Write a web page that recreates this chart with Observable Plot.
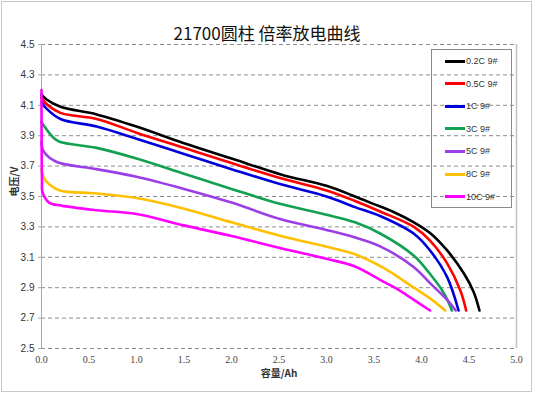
<!DOCTYPE html>
<html>
<head>
<meta charset="utf-8">
<script src="https://cdn.jsdelivr.net/npm/d3@7"></script>
<script src="https://cdn.jsdelivr.net/npm/@observablehq/plot@0.6"></script>
<style>
  html, body { margin: 0; padding: 0; background: #fff; }
  #wrap { position: relative; width: 536px; height: 397px; }
  #wrap svg { position: absolute; left: 0; top: 0; }
  #frame { position: absolute; left: 1px; top: 1px; width: 529px; height: 389px; border: 1px solid #c8c8c8; pointer-events: none; }
  #legend { position: absolute; left: 431px; top: 49px; width: 79px; height: 157px; border: 1px solid #8a8a8a; font-family: "Liberation Sans", sans-serif; font-size: 9px; color: #333; }
  .lg-row { position: absolute; left: 0; height: 12px; display: flex; align-items: center; }
  .lg-sw { width: 20px; height: 3px; margin-left: 13px; margin-right: 1px; }
</style>
</head>
<body>
<div id="wrap"><div id="frame"></div></div>
<script>
const title = "21700圆柱 倍率放电曲线";
const xLabel = "容量/Ah";
const yLabel = "电压/V";
const seriesNames = ["0.2C 9#", "0.5C 9#", "1C 9#", "3C 9#", "5C 9#", "8C 9#", "10C 9#"];
const seriesColors = ["#000000", "#ff0000", "#0000dd", "#12a150", "#9b3ee6", "#ffc000", "#ff00ff"];
const xTicks = [0, 0.5, 1, 1.5, 2, 2.5, 3, 3.5, 4, 4.5, 5];
const yTicks = [2.5, 2.7, 2.9, 3.1, 3.3, 3.5, 3.7, 3.9, 4.1, 4.3, 4.5];

const cap02 = [0, 0.05, 0.2, 0.58, 1.0, 1.5, 2.0, 2.52, 3.0, 3.3, 3.5, 3.7, 3.92, 4.09, 4.27, 4.45, 4.55, 4.61];
const v02   = [4.17, 4.14, 4.09, 4.04, 3.96, 3.85, 3.75, 3.645, 3.57, 3.50, 3.45, 3.40, 3.33, 3.26, 3.145, 2.99, 2.87, 2.75];
const cap05 = [0, 0.05, 0.2, 0.58, 1.0, 1.5, 2.0, 2.52, 3.0, 3.3, 3.57, 3.92, 4.09, 4.27, 4.41, 4.47];
const v05   = [4.15, 4.11, 4.05, 4.01, 3.92, 3.82, 3.72, 3.62, 3.54, 3.47, 3.40, 3.30, 3.21, 3.06, 2.88, 2.75];
const cap1  = [0, 0.05, 0.2, 0.58, 1.0, 1.5, 2.0, 2.52, 3.0, 3.3, 3.57, 3.92, 4.09, 4.27, 4.39];
const v1    = [4.12, 4.08, 4.01, 3.96, 3.88, 3.78, 3.68, 3.58, 3.50, 3.43, 3.37, 3.255, 3.145, 2.97, 2.75];
const cap3  = [0, 0.02, 0.12, 0.19, 0.58, 1.0, 1.5, 2.0, 2.52, 3.0, 3.3, 3.57, 3.92, 4.09, 4.24, 4.32];
const v3    = [3.99, 3.97, 3.89, 3.86, 3.82, 3.75, 3.65, 3.55, 3.45, 3.38, 3.33, 3.255, 3.11, 2.99, 2.86, 2.75];
const cap5  = [0, 0.02, 0.15, 0.58, 1.0, 1.5, 2.0, 2.52, 3.0, 3.3, 3.57, 3.92, 4.09, 4.27, 4.36];
const v5    = [3.86, 3.80, 3.73, 3.68, 3.63, 3.55, 3.46, 3.35, 3.28, 3.23, 3.17, 3.035, 2.93, 2.82, 2.75];
const cap8  = [0, 0.02, 0.08, 0.19, 0.58, 1.0, 1.5, 2.0, 2.52, 3.0, 3.3, 3.6, 3.92, 4.09, 4.25];
const v8    = [3.68, 3.63, 3.58, 3.54, 3.52, 3.49, 3.42, 3.33, 3.24, 3.17, 3.12, 3.03, 2.90, 2.83, 2.75];
const cap10 = [0, 0.005, 0.01, 0.08, 0.21, 0.58, 1.0, 1.5, 2.0, 2.52, 3.0, 3.3, 3.57, 3.72, 3.92, 4.09];
const v10   = [4.20, 3.60, 3.53, 3.46, 3.44, 3.41, 3.385, 3.31, 3.24, 3.16, 3.09, 3.04, 2.95, 2.90, 2.82, 2.75];

const caps = [cap02, cap05, cap1, cap3, cap5, cap8, cap10];
const volts = [v02, v05, v1, v3, v5, v8, v10];
const table = [];
seriesNames.forEach((name, i) => {
  caps[i].forEach((c, j) => table.push({series: name, cap: c, v: volts[i][j]}));
});

const plot = Plot.plot({
  width: 536,
  height: 397,
  marginLeft: 41,
  marginRight: 20,
  marginTop: 44,
  marginBottom: 49,
  style: {fontFamily: "Liberation Sans, sans-serif", fontSize: "10px", color: "#333", background: "transparent"},
  x: {domain: [0, 5], ticks: xTicks, label: null},
  y: {domain: [2.5, 4.5], ticks: yTicks, label: null},
  color: {domain: seriesNames, range: seriesColors},
  marks: [
    Plot.ruleY(yTicks, {stroke: "#8c8c8c", strokeDasharray: "4,3", strokeWidth: 1}),
    Plot.ruleX([0], {stroke: "#a8a8a8", strokeWidth: 1}),
    Plot.ruleX([5], {stroke: "#c0c0c0", strokeWidth: 1.5}),
    Plot.axisY({ticks: yTicks, tickSize: 3, tickPadding: 4, tickFormat: d3.format(".1f"), stroke: "#a8a8a8", fill: "#333", fontSize: 10, label: null}),
    Plot.axisX({ticks: xTicks, tickSize: 0, tickPadding: 7, tickFormat: d3.format(".1f"), fill: "#444", fontSize: 10, fontFamily: "Liberation Serif, serif", label: null}),
    Plot.line(table, {x: "cap", y: "v", z: "series", stroke: "series", strokeWidth: 2.6, curve: "catmull-rom"}),
    Plot.text([title], {frameAnchor: "top", dy: -17, dx: -12, text: d => d, fontSize: 17, fontFamily: "Noto Sans CJK SC", fill: "#111"}),
    Plot.text([xLabel], {frameAnchor: "bottom", dy: 28, text: d => d, fontSize: 10, fontWeight: "bold", fontFamily: "Noto Sans CJK SC", fill: "#333"}),
    Plot.text([yLabel], {frameAnchor: "left", dx: -27, dy: 0, rotate: -90, text: d => d, fontSize: 10, fontWeight: "bold", fontFamily: "Noto Sans CJK SC", fill: "#333"})
  ]
});
const wrap = document.getElementById("wrap");
wrap.insertBefore(plot, wrap.firstChild);

const legend = document.createElement("div");
legend.id = "legend";
seriesNames.forEach((name, i) => {
  const row = document.createElement("div");
  row.className = "lg-row";
  row.style.top = (5 + i * 22.6) + "px";
  const sw = document.createElement("div");
  sw.className = "lg-sw";
  sw.style.background = seriesColors[i];
  const tx = document.createElement("span");
  tx.textContent = name;
  row.appendChild(sw);
  row.appendChild(tx);
  legend.appendChild(row);
});
wrap.appendChild(legend);
</script>
</body>
</html>
